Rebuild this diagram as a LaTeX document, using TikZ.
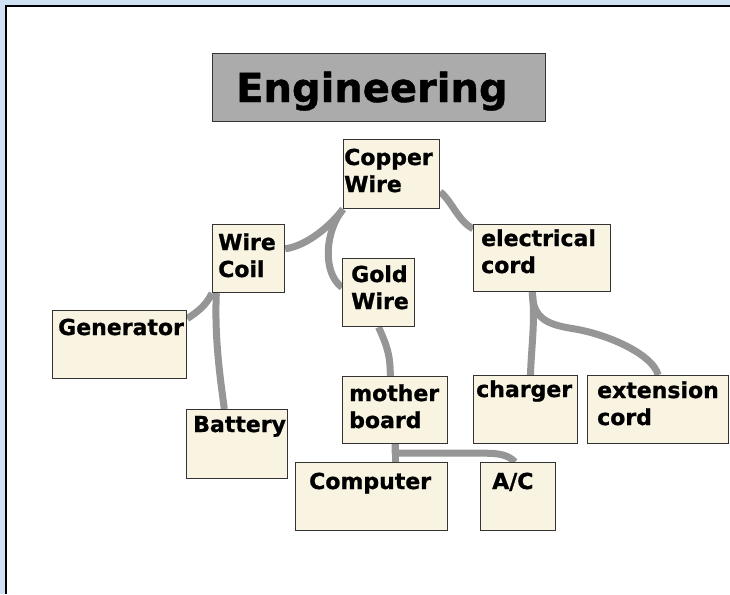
\documentclass[tikz,border=0pt]{standalone}
\usepackage{fontspec}
\setmainfont{DejaVu Sans}[BoldFeatures={FakeBold=1}]
\usetikzlibrary{backgrounds}
\definecolor{frameblue}{RGB}{207,225,242}
\definecolor{cardfill}{RGB}{249,244,226}
\definecolor{cardline}{RGB}{51,51,51}
\definecolor{titlefill}{RGB}{171,171,171}
\definecolor{linkgray}{RGB}{150,150,150}

\tikzset{
 card/.style={draw=cardline, fill=cardfill, line width=1.2pt, inner sep=0pt, anchor=north west},
 cardtext/.style={anchor=base west, inner sep=0pt, align=left, font=\bfseries\fontsize{22}{27}\selectfont},
 link/.style={draw=linkgray, line width=7pt, line join=round},
}

\begin{document}
\begin{tikzpicture}[x=1pt, y=-1pt]
\useasboundingbox (0,0) rectangle (730,594);

%frame:
\begin{scope}[on background layer]
\fill[frameblue] (0,0) rectangle (730,594);
\fill[white] (6,6) rectangle (730,594);
\draw[line width=1.2pt] (730,6) -- (6,6) -- (6,594);
\end{scope}

%title:
\node[card, fill=titlefill, minimum width=333pt, minimum height=68pt,
 label={[anchor=base west, inner sep=0pt, font=\bfseries\fontsize{40}{48}\selectfont, xshift=24pt, yshift=-49pt]north west:Engineering}] (title) at (212,53) {};

%cards: name/x/y/width/height/text dx/last baseline dy/text
\foreach \name/\x/\y/\w/\h/\dx/\dy/\txt in {
 cw/343/139/96/69/1/53/{Copper\\Wire},
 wc/212/224/72/68/6/53/{Wire\\Coil},
 gw/342/258/72/68/9/51/{Gold\\Wire},
 ec/473/224/137/67/8/49/{electrical\\cord},
 gen/52/310/134/68/6/25/{Generator},
 bat/186/409/101/69/7/23/{Battery},
 mb/342/376/105/67/7/52/{mother\\board},
 ch/473/375/104/68/3/22/{charger},
 ext/587/375/141/68/10/50/{extension\\cord},
 comp/295/462/152/68/14/27/{Computer},
 ac/480/462/75/68/12/27/{A/C}}{
 \node[card, minimum width=\w pt, minimum height=\h pt,
  label={[cardtext, xshift=\dx pt, yshift=-\dy pt]north west:\txt}] (\name) at (\x,\y) {};
}

%links:
\begin{scope}[on background layer]
\draw[link] (cw.south west) .. controls +(-12,16) and +(22,-3) .. (wc.15);
\draw[link] (cw.south west) .. controls +(-18,22) and +(-20,-15) .. (gw.172);
\draw[link] (cw.-20) .. controls +(12,10) and +(-15,-8) .. (ec.157);
\draw[link] (wc.south west) .. controls +(-6,12) and +(12,-8) .. (gen.21);
\draw[link] (wc.-133) .. controls +(-2,45) and +(-4,-30) .. (bat.110);
\draw[link] (gw.south) .. controls +(8,18) and +(0,-22) .. (mb.98);
\draw[link] (ec.-106) .. controls +(3,30) and +(1,-30) .. (ch.82);
\draw[link] (ec.-106) .. controls +(0,28) and +(-25,-4) .. (575,329)
 .. controls +(35,6) and +(-5,-20) .. (ext.north);
\draw[link] (mb.south) -- (mb.south |- comp.north);
\draw[link] (mb.south) -- ++(0,9) -- ++(88,0) .. controls +(14,0) and +(-8,-8) .. (ac.95);
\end{scope}

\end{tikzpicture}
\end{document}
